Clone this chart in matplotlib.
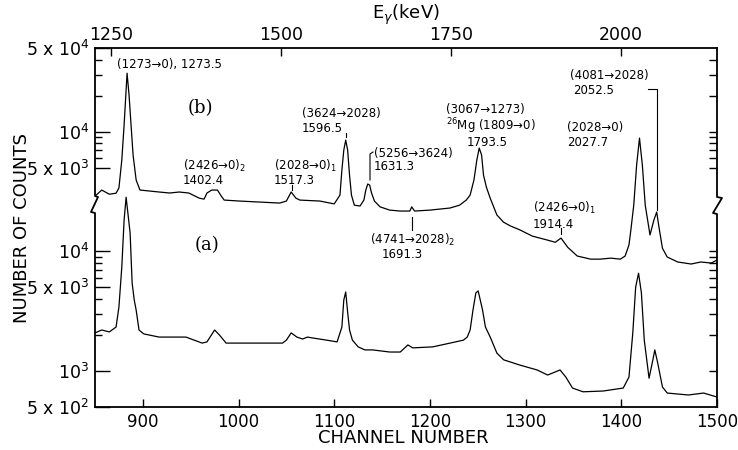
import numpy as np
import matplotlib.pyplot as plt
from matplotlib.lines import Line2D
from matplotlib.ticker import NullFormatter

# spectrum (a): channel, counts
ch_a = [850, 857, 865, 872, 875, 878, 880.4, 882.5, 884.6, 886.7, 888.8, 891, 893, 896, 901,
        917, 931, 945, 962, 967, 975, 980, 987, 1001, 1029, 1046, 1050, 1055, 1061, 1067,
        1072, 1077, 1092, 1103, 1108, 1110, 1112, 1114, 1116, 1119, 1125, 1132, 1140, 1158,
        1169, 1177, 1182, 1203, 1221, 1235, 1239, 1242, 1245, 1248, 1250.4, 1255, 1258, 1263,
        1270, 1277, 1294, 1312, 1323, 1328, 1336, 1342, 1349, 1360, 1381, 1402, 1408, 1412,
        1415, 1418, 1421, 1424, 1429, 1433, 1435, 1438, 1443, 1448, 1470, 1486, 1500]
cnt_a = [2080, 2200, 2120, 2330, 3420, 7370, 18200, 28300, 20100, 14200, 5440, 3920, 3230, 2200, 2040,
         1920, 1920, 1920, 1710, 1750, 2200, 2000, 1710, 1710, 1710, 1710, 1810, 2080, 1920, 1850,
         1920, 1890, 1810, 1750, 2330, 3920, 4570, 3110, 2200, 1810, 1590, 1500, 1500, 1440,
         1440, 1650, 1560, 1590, 1710, 1810, 1920, 2200, 3230, 4490, 4670, 3230, 2330, 1920,
         1410, 1240, 1120, 1020, 925, 960, 1020, 890, 720, 670, 680, 720, 890, 2080,
         5020, 6560, 4490, 1810, 870, 1240, 1500, 1170, 735, 654, 630, 654, 606]

# spectrum (b): channel, counts (drawn one decade higher)
ch_b = [850, 857, 865, 872, 875, 878, 880.4, 882.5, 883.5, 885.6, 887.7, 889.8, 893, 897, 907,
        917, 928, 938, 948, 959, 964, 967, 972, 978, 982, 985, 1001, 1022, 1043, 1050,
        1055, 1060, 1064, 1085, 1100, 1106, 1108, 1110, 1112, 1114, 1116, 1118, 1121, 1127,
        1131, 1133, 1135, 1137, 1139, 1142, 1148, 1158, 1169, 1179, 1181, 1184, 1200, 1221,
        1231, 1238, 1242, 1246, 1249, 1251.5, 1254, 1256, 1259, 1263, 1270, 1277, 1284, 1294,
        1307, 1323, 1331, 1337, 1344, 1354, 1368, 1378, 1389, 1399, 1404, 1408, 1410, 1413,
        1416, 1419, 1422, 1425, 1430, 1434, 1437, 1439, 1443, 1448, 1459, 1473, 1483, 1494, 1500]
cnt_b = [2890, 3250, 3000, 3060, 3380, 5780, 11300, 22200, 30800, 20200, 11300, 6370, 3940, 3250, 3190,
         3130, 3070, 3130, 3070, 2780, 2730, 3070, 3250, 3250, 2890, 2680, 2630, 2580, 2530, 2630,
         3130, 2780, 2680, 2630, 2490, 2950, 4770, 7010, 8500, 7010, 4330, 2950, 2430, 2390,
         2680, 3250, 3650, 3580, 3070, 2630, 2350, 2210, 2170, 2170, 2350, 2170, 2210, 2300,
         2430, 2680, 2950, 3940, 5780, 7290, 6370, 4330, 3440, 2780, 2010, 1750, 1630, 1510,
         1340, 1240, 1190, 1290, 1080, 913, 860, 860, 877, 860, 913, 1130, 1510, 2430,
         5250, 8830, 5250, 2430, 1370, 1820, 2130, 1660, 1060, 896, 814, 783, 814, 798, 845]
offset_b = 10

# energy calibration from two labelled lines (channel, keV)
cal_ch = [883.5, 1419.2]
cal_e = [1273.5, 2027.7]

x_ticks = [900, 1000, 1100, 1200, 1300, 1400, 1500]
e_ticks = [1250, 1500, 1750, 2000]
y_major = [5e5, 1e5, 5e4, 1e4, 5e3, 1e3, 5e2]
y_labels = ['5 x 10$^4$', '10$^4$', '5 x 10$^3$', '10$^4$', '5 x 10$^3$', '10$^3$', '5 x 10$^2$']
y_minor = [4e5, 3e5, 2e5, 9e4, 8e4, 7e4, 6e4, 9e3, 8e3, 7e3, 6e3, 4e3, 3e3, 2e3]
y_right = [4e5, 3e5, 2e5, 1e5, 9e4, 8e4, 7e4, 6e4, 5e4,
           1e4, 9e3, 8e3, 7e3, 6e3, 5e3, 4e3, 3e3, 2e3, 1e3]

plt.rcParams['font.family'] = 'DejaVu Sans'
W, H = 738, 450


def fx(x):
    return x / W


def fy(y):
    return 1 - y / H


fig = plt.figure(figsize=(W / 100, H / 100), dpi=100)
ax = fig.add_axes([fx(95), fy(407), (717 - 95) / W, (407 - 48) / H])

ax.plot(ch_a, cnt_a, color='k', lw=0.9)
ax.plot(ch_b, np.array(cnt_b) * offset_b, color='k', lw=0.9)

ax.set_yscale('log')
ax.set_xlim(850, 1500)
ax.set_ylim(500, 5e5)
ax.set_xticks(x_ticks)
ax.set_yticks(y_major, y_labels)
ax.set_yticks(y_minor, minor=True)
ax.yaxis.set_minor_formatter(NullFormatter())
ax.tick_params(axis='x', direction='in', length=6, width=1, labelsize=12, pad=4)
ax.tick_params(axis='y', which='major', direction='in', length=11, width=1, labelsize=12.5, pad=4)
ax.tick_params(axis='y', which='minor', direction='in', length=5, width=1)
for s in ['left', 'right']:
    ax.spines[s].set_visible(False)
for s in ['top', 'bottom']:
    ax.spines[s].set_linewidth(1.3)

# right side ticks
axr = ax.twinx()
axr.set_yscale('log')
axr.set_ylim(500, 5e5)
axr.set_yticks(y_right, minor=False)
axr.yaxis.set_major_formatter(NullFormatter())
axr.yaxis.set_minor_locator(plt.NullLocator())
axr.tick_params(axis='y', direction='in', length=6, width=1)
for s in axr.spines.values():
    s.set_visible(False)

# top energy axis
slope = (cal_e[1] - cal_e[0]) / (cal_ch[1] - cal_ch[0])
secx = ax.secondary_xaxis('top', functions=(lambda c: cal_e[0] + (c - cal_ch[0]) * slope,
                                            lambda e: cal_ch[0] + (e - cal_e[0]) / slope))
secx.set_xticks(e_ticks)
secx.tick_params(direction='in', length=6, width=1, labelsize=12.5, pad=3)
secx.spines['top'].set_visible(False)

# broken side spines
for xs, ys in [([95, 95, 98, 91, 95, 95], [48, 196, 197, 212, 213, 407]),
               ([717, 717, 722, 713, 717, 717], [48, 197, 198, 213, 214, 407])]:
    fig.add_artist(Line2D([fx(v) for v in xs], [fy(v) for v in ys], color='k', lw=1.3,
                          transform=fig.transFigure))

fig.text(fx(22), fy(228), 'NUMBER OF COUNTS', rotation=90, ha='center', va='center', fontsize=13)
fig.text(fx(403), fy(438), 'CHANNEL NUMBER', ha='center', va='center', fontsize=13)
fig.text(fx(406), fy(15), 'E$_{\\gamma}$(keV)', ha='center', va='center', fontsize=13)

fig.text(fx(200), fy(108), '(b)', family='DejaVu Serif', ha='center', va='center', fontsize=13)
fig.text(fx(207), fy(245), '(a)', family='DejaVu Serif', ha='center', va='center', fontsize=13)

notes = [
    (117, 65, '(1273\u21920), 1273.5'),
    (183, 166, '(2426\u21920)$_2$'), (183, 180, '1402.4'),
    (274, 166, '(2028\u21920)$_1$'), (274, 180, '1517.3'),
    (302, 113, '(3624\u21922028)'), (302, 128, '1596.5'),
    (374, 153, '(5256\u21923624)'), (374, 167, '1631.3'),
    (370, 240, '(4741\u21922028)$_2$'), (382, 254, '1691.3'),
    (446, 110, '(3067\u21921273)'), (446, 126, '$^{26}$Mg (1809\u21920)'), (467, 142, '1793.5'),
    (533, 208, '(2426\u21920)$_1$'), (533, 224, '1914.4'),
    (567, 128, '(2028\u21920)'), (567, 143, '2027.7'),
    (570, 75, '(4081\u21922028)'), (573, 90, '2052.5'),
]
for x, y, s in notes:
    fig.text(fx(x), fy(y), s, ha='left', va='center', fontsize=8.5)

leaders = [
    ([292, 292], [185, 190]),
    ([346, 346], [133, 137]),
    ([373, 370, 370], [152, 154, 180]),
    ([412, 412], [217, 230]),
    ([561, 561], [228, 234]),
    ([648, 657, 657], [89, 89, 210]),
]
for xs, ys in leaders:
    fig.add_artist(Line2D([fx(v) for v in xs], [fy(v) for v in ys], color='k', lw=0.8,
                          transform=fig.transFigure))

fig.savefig('out.png', dpi=100)
